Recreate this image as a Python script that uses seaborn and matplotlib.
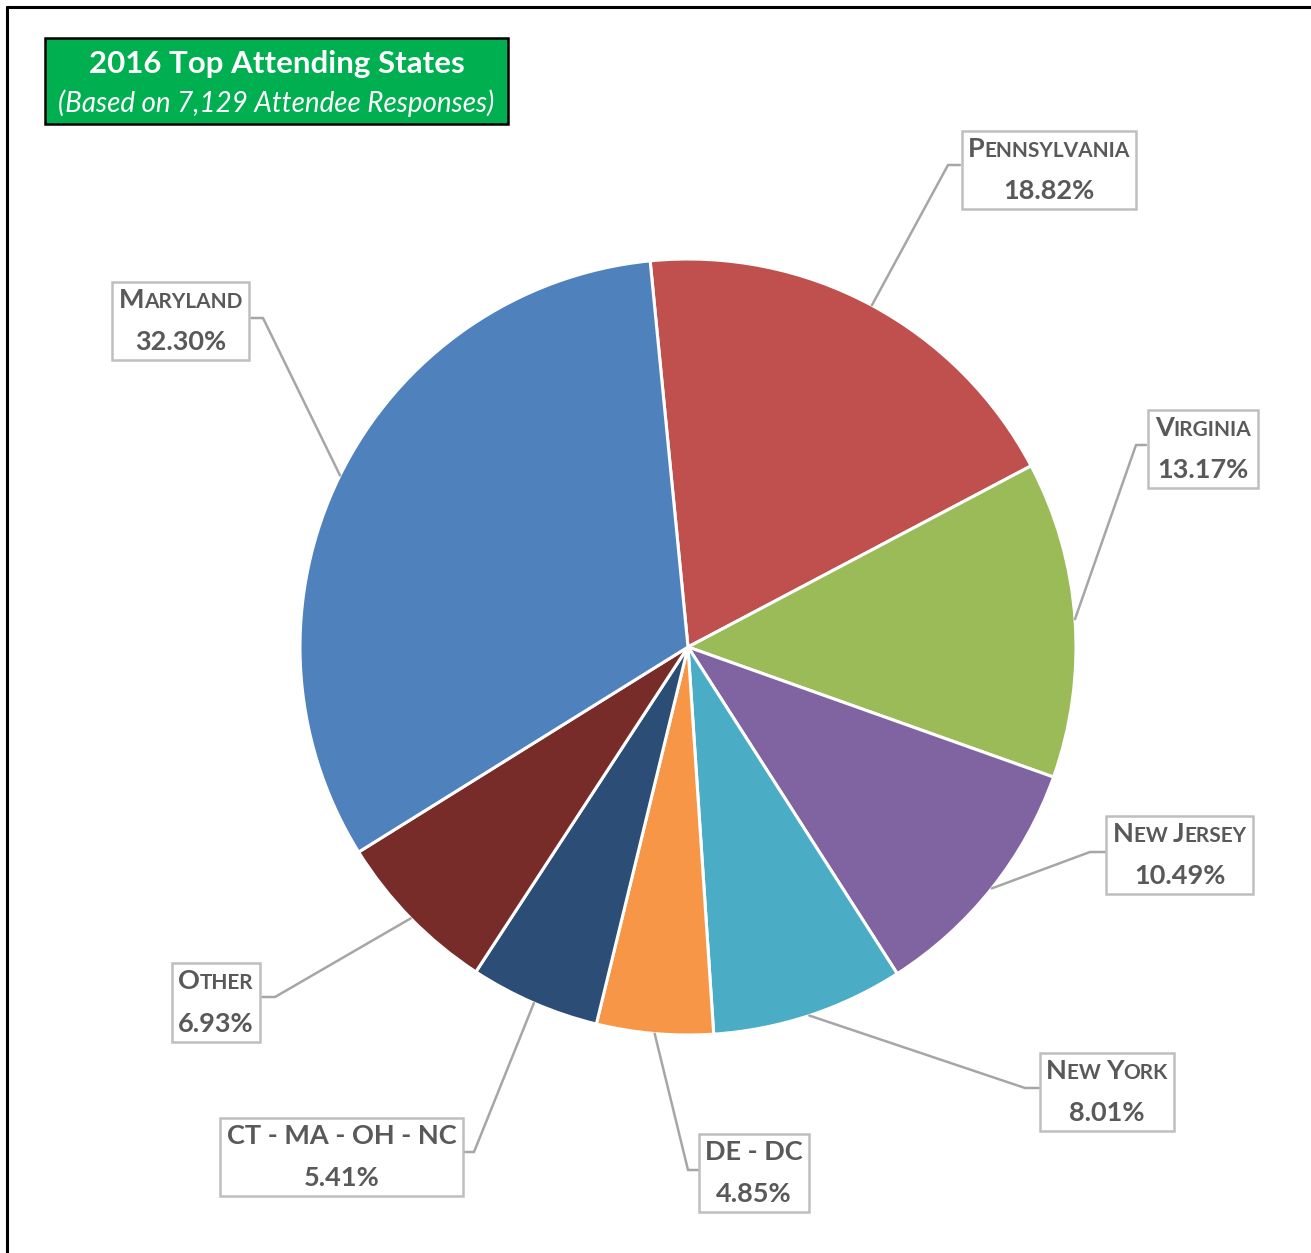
import matplotlib
matplotlib.use("Agg")
import matplotlib.pyplot as plt
import seaborn as sns
import numpy as np
from matplotlib.offsetbox import TextArea, HPacker, VPacker, AnnotationBbox
from matplotlib.patches import Rectangle
from matplotlib.lines import Line2D

# ---------------- data ----------------
states = ["Pennsylvania", "Virginia", "New Jersey", "New York", "DE - DC",
          "CT - MA - OH - NC", "Other", "Maryland"]
shares = [18.82, 13.17, 10.49, 8.01, 4.85, 5.41, 6.93, 32.30]
colors = ["#C0504D", "#9BBB59", "#8064A2", "#4BACC6", "#F79646",
          "#2C4D75", "#772C2A", "#4F81BD"]
title = "2016 Top Attending States"
subtitle = "(Based on 7,129 Attendee Responses)"

# ---------------- layout (pixel space, y measured from top) ----------------
W, H = 1311, 1253
CX, CY, R = 688, 647, 388
box_centres = [(1049, 170), (1203, 449), (1179.5, 855), (1107, 1092),
               (754, 1173), (341.5, 1157), (216, 1002.5), (180.5, 321)]
elbows = [(948, 165), (1136, 445), (1090, 852), (1025, 1088),
          (688, 1170), (474, 1152), (275, 997), (263, 318)]
edge_x = [960, 1146, 1105, 1039, 700, 460, 262, 251]

sns.set_theme(style="white")
plt.rcParams["font.family"] = ["Lato", "DejaVu Sans"]

fig = plt.figure(figsize=(W / 100, H / 100), dpi=100)
ax = fig.add_axes([0, 0, 1, 1])

def fy(py):
    return H - py

wedges, _ = ax.pie(shares, colors=sns.color_palette(colors), startangle=95.6,
                   counterclock=False, center=(CX, fy(CY)), radius=R,
                   wedgeprops=dict(edgecolor="white", linewidth=2.2))
ax.set_xlim(0, W)
ax.set_ylim(0, H)
ax.set_aspect("auto")
ax.axis("off")

TXT = "#595959"
LINE = "#A6A6A6"

def small_caps(name, big, small):
    runs = []
    for ch in name:
        if ch.islower():
            size, c = small, ch.upper()
        elif ch.isupper():
            size, c = big, ch
        else:
            size = runs[-1][0] if runs else big
            c = ch
        if runs and runs[-1][0] == size:
            runs[-1][1] += c
        else:
            runs.append([size, c])
    areas = [TextArea(t, textprops=dict(fontsize=s, fontweight="bold", color=TXT))
             for s, t in runs]
    return HPacker(children=areas, align="baseline", pad=0, sep=0)

for w, name, val, bc, el, ex in zip(wedges, states, shares, box_centres, elbows, edge_x):
    mid = np.deg2rad((w.theta1 + w.theta2) / 2)
    sx = w.center[0] + w.r * np.cos(mid)
    sy = w.center[1] + w.r * np.sin(mid)
    ax.add_line(Line2D([sx, el[0], ex], [sy, fy(el[1]), fy(el[1])],
                       color=LINE, lw=1.8, zorder=1))
    top = small_caps(name, 19.5, 15)
    bottom = TextArea(f"{val:.2f}%", textprops=dict(fontsize=19.5, fontweight="bold", color=TXT))
    pack = VPacker(children=[top, bottom], align="center", pad=0, sep=13)
    ab = AnnotationBbox(pack, (bc[0], fy(bc[1])), xycoords="data", frameon=True,
                        box_alignment=(0.5, 0.5), pad=0.42,
                        bboxprops=dict(edgecolor="#BFBFBF", facecolor="white", lw=1.8,
                                       boxstyle="square,pad=0.42"))
    ax.add_artist(ab)

# title box
ax.add_patch(Rectangle((45, fy(124)), 463, 86, facecolor="#00B050",
                       edgecolor="black", lw=1.8, zorder=3))
ax.text(276.5, fy(64), title, ha="center", va="center", color="white",
        fontsize=22.5, fontweight="bold", zorder=4)
ax.text(276.5, fy(103), subtitle, ha="center", va="center", color="white",
        fontsize=20, fontstyle="italic", zorder=4)

# outer frame (top and left)
fig.add_artist(Line2D([7 / W, 1], [1 - 7 / H, 1 - 7 / H], color="black", lw=2.2,
                      transform=fig.transFigure))
fig.add_artist(Line2D([7 / W, 7 / W], [0, 1 - 7 / H], color="black", lw=2.2,
                      transform=fig.transFigure))

fig.savefig("out.png", dpi=100, facecolor="white")
